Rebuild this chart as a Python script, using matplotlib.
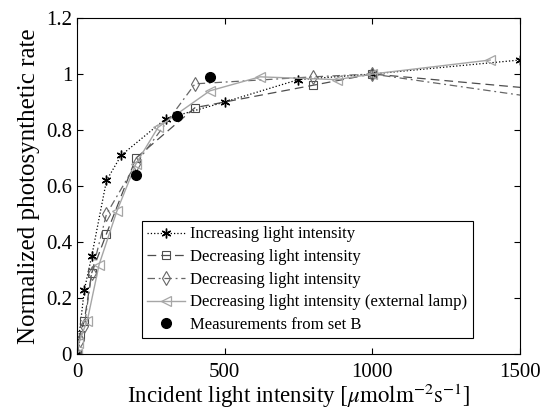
import numpy as np
import matplotlib.pyplot as plt
from matplotlib.ticker import FormatStrFormatter

plt.rcParams['font.family'] = ['Liberation Serif', 'DejaVu Serif']
plt.rcParams['mathtext.fontset'] = 'stix'

# increasing light intensity
inc_x = [0, 25, 50, 100, 150, 300, 500, 750, 1000, 1500]
inc_y = [0, 0.23, 0.35, 0.62, 0.71, 0.84, 0.90, 0.98, 1.0, 1.05]

# decreasing light intensity (squares)
dec1_x = [0, 10, 25, 50, 100, 200, 400, 800, 1000, 2000]
dec1_y = [0, 0.07, 0.12, 0.29, 0.43, 0.70, 0.88, 0.96, 1.0, 0.905]

# decreasing light intensity (diamonds)
dec2_x = [0, 10, 25, 50, 100, 200, 400, 800, 1000, 2000]
dec2_y = [0, 0.05, 0.10, 0.29, 0.50, 0.68, 0.965, 0.99, 1.0, 0.85]

# decreasing light intensity, external lamp
ext_x = [0, 5, 35, 75, 135, 200, 275, 450, 620, 880, 1000, 1400]
ext_y = [0, 0.04, 0.12, 0.32, 0.51, 0.68, 0.81, 0.94, 0.99, 0.98, 1.0, 1.05]

# set B
setb_x = [200, 340, 450]
setb_y = [0.64, 0.85, 0.99]

fig = plt.figure(figsize=(5.42, 4.09), dpi=100)
ax = fig.add_axes([0.142, 0.134, 0.817, 0.822])

ax.plot(inc_x, inc_y, color='black', linestyle=':', linewidth=0.9,
        marker=(6, 2, 0), markersize=7, markeredgewidth=1.0,
        label='Increasing light intensity')
ax.plot(dec1_x, dec1_y, color='0.3', linestyle=(0, (7, 4)), linewidth=0.9,
        marker='s', markersize=6, markerfacecolor='none', markeredgewidth=0.8,
        label='Decreasing light intensity')
ax.plot(dec2_x, dec2_y, color='0.4', linestyle=(0, (6, 3, 1.5, 3)), linewidth=0.9,
        marker='d', markersize=7, markerfacecolor='none', markeredgewidth=0.8,
        label='Decreasing light intensity')
ax.plot(ext_x, ext_y, color='0.65', linestyle='-', linewidth=1.0,
        marker='<', markersize=7, markerfacecolor='none', markeredgewidth=0.9,
        label='Decreasing light intensity (external lamp)')
ax.plot(setb_x, setb_y, color='black', linestyle='none', marker='o',
        markersize=7, label='Measurements from set B')

ax.set_xlim(0, 1500)
ax.set_ylim(0, 1.2)
ax.set_xticks([0, 500, 1000, 1500])
ax.set_yticks([0, 0.2, 0.4, 0.6, 0.8, 1.0, 1.2])
ax.yaxis.set_major_formatter(FormatStrFormatter('%g'))
ax.tick_params(direction='in', top=True, right=True, labelsize=15, length=4)
ax.tick_params(axis='x', pad=6)

ax.set_xlabel(r'Incident light intensity $[\mu\mathrm{molm}^{-2}\mathrm{s}^{-1}]$',
              fontsize=16.5)
ax.xaxis.set_label_coords(0.5, -0.083)
ax.set_ylabel('Normalized photosynthetic rate', fontsize=18, labelpad=4)

leg = ax.legend(loc='lower left', bbox_to_anchor=(0.147, 0.048), borderaxespad=0,
                fontsize=12, fancybox=False, edgecolor='black', framealpha=1,
                handlelength=2.3, handletextpad=0.3, borderpad=0.3, labelspacing=0.4)
leg.get_frame().set_linewidth(0.8)

plt.savefig('out.png', dpi=100)
